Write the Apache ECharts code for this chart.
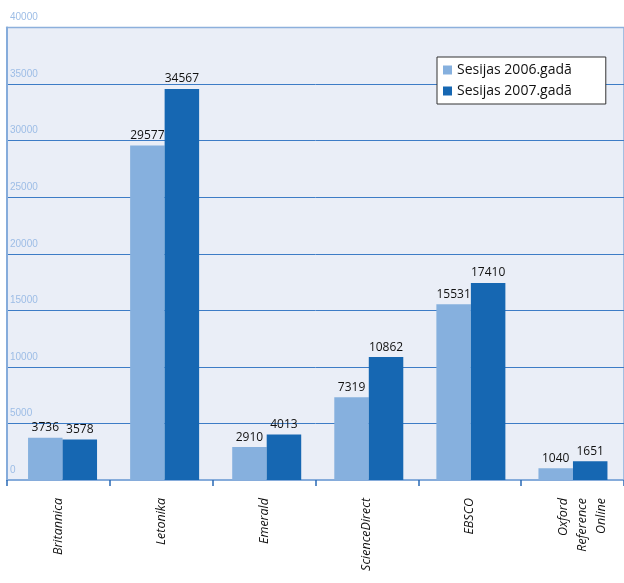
<!DOCTYPE html>
<html>
<head>
<meta charset="utf-8">
<script src="https://cdn.jsdelivr.net/npm/echarts@6/dist/echarts.min.js"></script>
<style>html,body{margin:0;padding:0;background:#fff}#c{width:624px;height:583px}</style>
</head>
<body>
<div id="c"></div>
<script>
var categories = ['Britannica', 'Letonika', 'Emerald', 'ScienceDirect', 'EBSCO', 'Oxford\nReference\nOnline'];
var seriesNames = ['Sesijas 2006.gadā', 'Sesijas 2007.gadā'];
var sessions2006 = [3736, 29577, 2910, 7319, 15531, 1040];
var sessions2007 = [3578, 34567, 4013, 10862, 17410, 1651];
var yTicks = { min: 0, max: 40000, interval: 5000 };

var font = 'Open Sans, Noto Sans, sans-serif';
var chart = echarts.init(document.getElementById('c'), null, { renderer: 'canvas' });
var labelStyle = { show: true, position: 'top', distance: 4, color: '#111', fontSize: 12, fontFamily: font };
chart.setOption({
  animation: false,
  backgroundColor: '#ffffff',
  grid: [
    { left: 7, top: 27.5, width: 628, height: 452.5, show: true, backgroundColor: '#eaeef7', borderColor: '#8db0dc', borderWidth: 1.5 },
    { left: 11.5, top: 27.5, width: 628, height: 452.5 }
  ],
  legend: {
    orient: 'vertical', left: 437, top: 57,
    data: seriesNames,
    icon: 'rect', itemWidth: 9, itemHeight: 9, itemGap: 7,
    backgroundColor: '#ffffff', borderColor: '#333', borderWidth: 1,
    padding: [6, 34, 6, 6],
    textStyle: { fontSize: 14, color: '#111', fontFamily: font }
  },
  xAxis: [
    {
      type: 'category', data: categories, gridIndex: 0,
      axisLine: { show: true, lineStyle: { color: '#86acdb', width: 2 } },
      axisTick: { show: true, length: 6, lineStyle: { color: '#2a6ab5', width: 1.5 } },
      axisLabel: { interval: 0, rotate: 90, margin: 18, fontStyle: 'italic', fontSize: 12.5, color: '#111', lineHeight: 19, fontFamily: font,
        formatter: function (v) { return v.indexOf('\n') >= 0 ? '\n' + v : v; } },
      splitLine: { show: false }
    },
    {
      type: 'category', data: categories, gridIndex: 1, show: false
    }
  ],
  yAxis: [
    {
      type: 'value', gridIndex: 0, min: yTicks.min, max: yTicks.max, interval: yTicks.interval,
      axisLine: { show: true, lineStyle: { color: '#86acdb', width: 2 } },
      axisTick: { show: false },
      axisLabel: { inside: true, margin: 3, verticalAlign: 'bottom', padding: [0, 0, 5, 0], color: '#9dbde6', fontSize: 10,
        fontFamily: 'Liberation Sans Narrow, Liberation Sans, sans-serif',
        formatter: function (v) { return String(v); } },
      splitLine: { show: true, showMinLine: false, showMaxLine: false, lineStyle: { color: '#3d7cc6', width: 1 } }
    },
    { type: 'value', gridIndex: 1, min: yTicks.min, max: yTicks.max, interval: yTicks.interval, show: false, splitLine: { show: false } }
  ],
  series: [
    { name: seriesNames[0], type: 'bar', xAxisIndex: 1, yAxisIndex: 1, data: sessions2006, barWidth: 34.5, barGap: '0%', itemStyle: { color: '#86b0de' }, label: labelStyle },
    { name: seriesNames[1], type: 'bar', xAxisIndex: 1, yAxisIndex: 1, data: sessions2007, barWidth: 34.5, barGap: '0%', itemStyle: { color: '#1667b2' }, label: labelStyle }
  ]
});
</script>
</body>
</html>
